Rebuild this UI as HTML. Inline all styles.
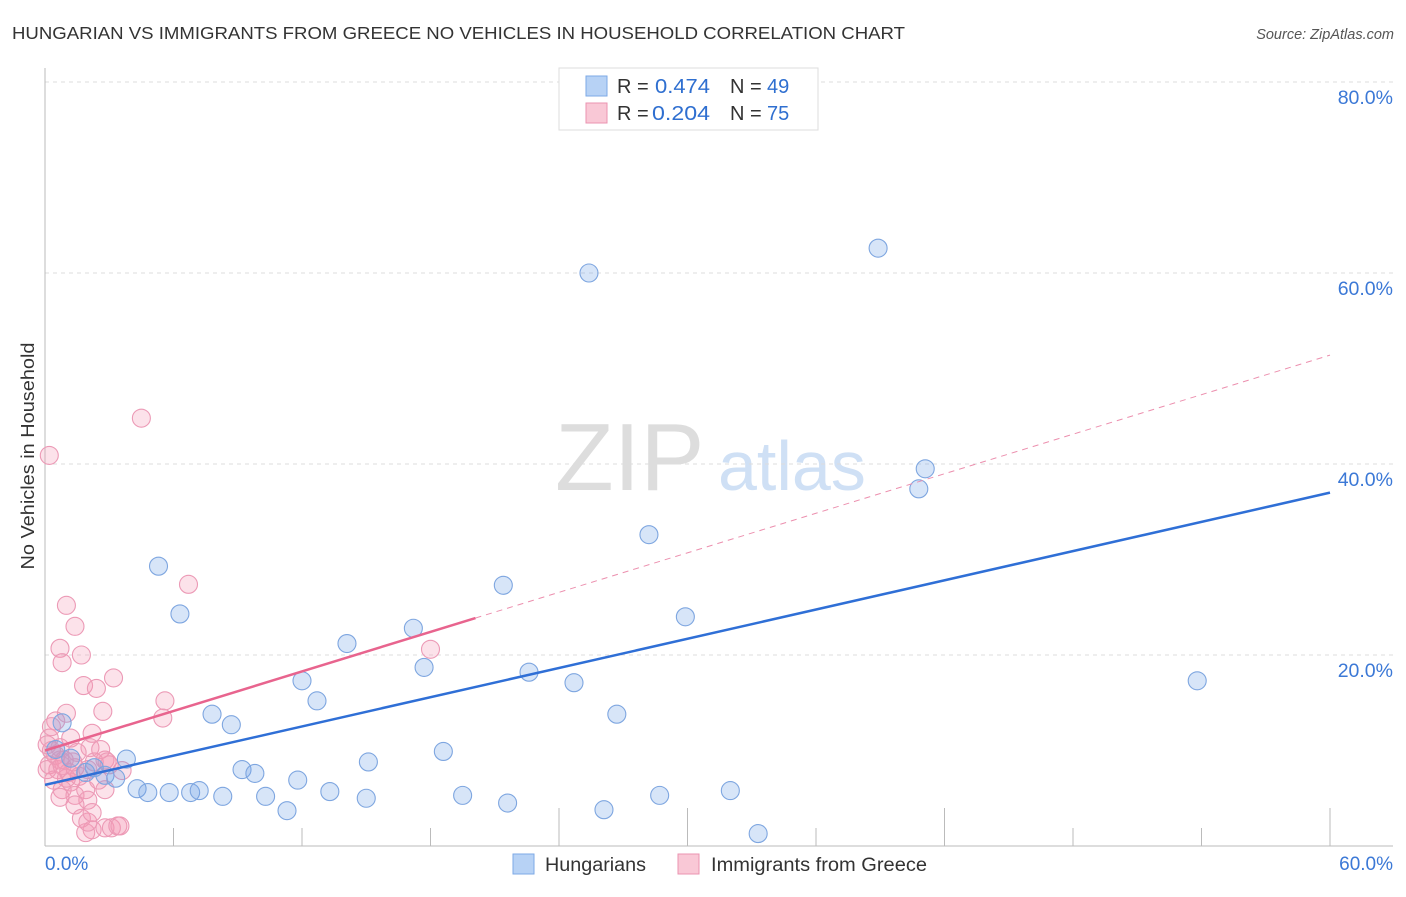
<!DOCTYPE html>
<html><head><meta charset="utf-8"><style>
body{margin:0;background:#fff;font-family:"Liberation Sans",sans-serif}
svg text{font-family:"Liberation Sans",sans-serif}
</style></head><body>
<svg id="chart" width="1406" height="892">
<text x="12" y="39" font-size="17.5" fill="#333" textLength="893" lengthAdjust="spacingAndGlyphs">HUNGARIAN VS IMMIGRANTS FROM GREECE NO VEHICLES IN HOUSEHOLD CORRELATION CHART</text>
<text x="1394" y="39" font-size="14.5" fill="#555" font-style="italic" text-anchor="end">Source: ZipAtlas.com</text>
<text x="34" y="456" font-size="18" fill="#333" text-anchor="middle" textLength="227" lengthAdjust="spacingAndGlyphs" transform="rotate(-90 34 456)">No Vehicles in Household</text>
<text x="555" y="490" font-size="96" fill="#ddd" font-family="Liberation Serif">ZIP</text>
<text x="718" y="490" font-size="70" fill="#cfe0f5">atlas</text>
<g id="grid"></g><g id="pts"></g><g id="lines"></g>
<g>
<rect x="559" y="68" width="259" height="62" fill="#fff" stroke="#ddd"/>
<rect x="586" y="76" width="21" height="20" fill="#b7d2f5" stroke="#7ea9e6"/>
<rect x="586" y="103" width="21" height="20" fill="#f9c8d6" stroke="#eb93b0"/>
<text x="617" y="93" font-size="20" fill="#333">R = <tspan x="655" fill="#2f6fd0" textLength="55" lengthAdjust="spacingAndGlyphs">0.474</tspan><tspan x="730">N = </tspan><tspan x="767" fill="#2f6fd0">49</tspan></text>
<text x="617" y="120" font-size="20" fill="#333">R = <tspan x="652" fill="#2f6fd0" textLength="58" lengthAdjust="spacingAndGlyphs">0.204</tspan><tspan x="730">N = </tspan><tspan x="767" fill="#2f6fd0">75</tspan></text>
</g>
<g>
<rect x="513" y="854" width="21" height="20" fill="#b7d2f5" stroke="#7ea9e6"/>
<text x="545" y="871" font-size="19" fill="#333" textLength="101" lengthAdjust="spacingAndGlyphs">Hungarians</text>
<rect x="678" y="854" width="21" height="20" fill="#f9c8d6" stroke="#eb93b0"/>
<text x="711" y="871" font-size="19" fill="#333" textLength="216" lengthAdjust="spacingAndGlyphs">Immigrants from Greece</text>
</g>
<text x="45" y="870" font-size="19" fill="#3b78d6">0.0%</text>
<text x="1393" y="870" font-size="19" fill="#3b78d6" text-anchor="end">60.0%</text>
</svg>
<script>
const yTicks=[20,40,60,80];
const xTicks=[6,12,18,24,30,36,42,48,54,60];
const blueX=[25.4,38.9,41.1,40.8,28.2,5.3,21.4,6.3,29.9,14.1,17.2,12.0,17.7,22.6,24.7,12.7,7.8,8.7,26.7,53.8,18.6,3.8,15.1,9.2,9.8,11.8,4.3,4.8,5.8,6.8,7.2,8.3,10.3,13.3,15.0,19.5,21.6,26.1,28.7,32.0,11.3,33.3,0.8,1.2,1.9,2.8,3.3,2.3,0.5];
const blueY=[60.0,62.6,39.5,37.4,32.6,29.3,27.3,24.3,24.0,21.2,22.8,17.3,18.7,18.2,17.1,15.2,13.8,12.7,13.8,17.3,9.9,9.1,8.8,8.0,7.6,6.9,6.0,5.6,5.6,5.6,5.8,5.2,5.2,5.7,5.0,5.3,4.5,3.8,5.3,5.8,3.7,1.3,12.9,9.2,7.7,7.4,7.1,8.2,10.1];
const pinkX=[0.2,4.5,6.7,1.0,1.4,0.7,0.8,1.7,1.8,2.4,3.2,5.6,5.5,2.7,1.0,0.5,18.0,2.2,1.2,0.2,0.1,0.3,0.5,0.7,0.9,0.2,0.6,1.1,1.4,1.6,2.0,2.3,2.8,2.5,1.2,0.8,1.4,0.7,1.9,2.8,3.6,3.0,2.1,1.5,2.6,0.3,2.0,1.4,1.7,2.2,1.9,2.8,3.1,3.4,3.5,2.0,2.2,1.0,0.4,0.1,0.7,1.3,0.8,2.9];
const pinkY=[40.9,44.8,27.4,25.2,23.0,20.7,19.2,20.0,16.8,16.5,17.6,15.2,13.4,14.1,13.9,13.1,20.6,11.8,11.3,11.3,10.6,10.0,9.5,10.3,9.0,8.5,8.0,7.7,8.2,7.3,8.0,8.8,9.0,6.9,6.7,5.9,5.3,5.1,5.9,5.9,7.9,8.5,10.3,9.8,10.1,12.5,4.8,4.3,2.9,1.7,1.4,1.9,1.9,2.1,2.1,2.5,3.5,7.1,6.9,8.0,9.0,8.8,8.4,8.8];
const blueLine=[6.4,37.0];
const pinkLine=[10.0,51.4];
const pinkSolidEnd=20.1;
const X=v=>45+v/60*1285, Y=v=>846-v/20*191;
const NS='http://www.w3.org/2000/svg';
function mk(p,t,a){const e=document.createElementNS(NS,t);for(const k in a)e.setAttribute(k,a[k]);p.appendChild(e);return e;}
const g=document.getElementById('grid');
yTicks.forEach(t=>{
 const l=mk(g,'line',{x1:45,x2:1393,y1:Y(t),y2:Y(t),stroke:'#ddd','stroke-dasharray':'4,4'});
 
 
 const tx=mk(g,'text',{x:1393,y:Y(t)+22,'font-size':19.5,fill:'#3b78d6','text-anchor':'end'});tx.textContent=t.toFixed(1)+'%';
 
 
});
const ax=mk(g,'line',{x1:45,x2:45,y1:68,y2:846,stroke:'#bbb'});


const bx=mk(g,'line',{x1:45,x2:1393,y1:846,y2:846,stroke:'#bbb'});


xTicks.forEach((t,i)=>{
 const tall=[24,30,42,60].includes(t);
 const l=mk(g,'line',{x1:X(t),x2:X(t),y1:tall?808:828,y2:846,stroke:'#bbb'});
 
 
});
const pg=document.getElementById('pts');
pinkX.forEach((v,i)=>{
 const c=mk(pg,'circle',{cx:X(v),cy:Y(pinkY[i]),r:9,fill:'rgba(243,150,180,0.28)',stroke:'#ec9ab6','stroke-width':1.1});
 
 
});
blueX.forEach((v,i)=>{
 const c=mk(pg,'circle',{cx:X(v),cy:Y(blueY[i]),r:9,fill:'rgba(110,160,230,0.28)',stroke:'#7ea6e0','stroke-width':1.1});
 
 
});
const lg=document.getElementById('lines');
const pAt=x=>pinkLine[0]+(pinkLine[1]-pinkLine[0])*x/60;
const bl=mk(lg,'line',{x1:X(0),y1:Y(blueLine[0]),x2:X(60),y2:Y(blueLine[1]),stroke:'#2f6fd6','stroke-width':2.5});


const pd=mk(lg,'line',{x1:X(pinkSolidEnd),y1:Y(pAt(pinkSolidEnd)),x2:X(60),y2:Y(pinkLine[1]),stroke:'#ec8fae','stroke-width':1,'stroke-dasharray':'6,5'});


const ps=mk(lg,'line',{x1:X(0),y1:Y(pinkLine[0]),x2:X(pinkSolidEnd),y2:Y(pAt(pinkSolidEnd)),stroke:'#e8648e','stroke-width':2.5});


</script>
</body></html>
